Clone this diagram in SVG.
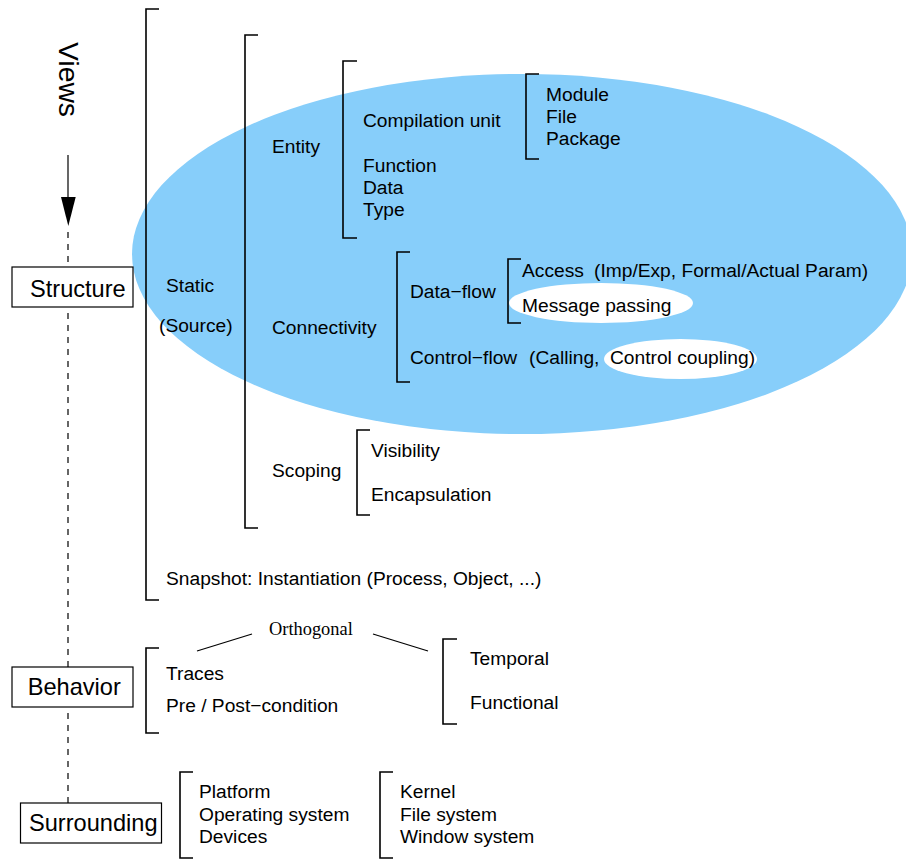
<svg xmlns="http://www.w3.org/2000/svg" width="906" height="859" viewBox="0 0 906 859">
<style>
text{font-family:"Liberation Sans",Arial,sans-serif;font-size:19.2px;fill:#000}
.big{font-size:23.6px}
.views{font-size:28.3px}
.serif{font-family:"Liberation Serif","Times New Roman",serif;font-size:18.4px}
.br{fill:none;stroke:#000;stroke-width:1.6}
.box{fill:#fff;stroke:#000;stroke-width:1.2}
.dash{stroke:#000;stroke-width:1.2;stroke-dasharray:6 6;fill:none}
.ln{stroke:#000;stroke-width:1.2;fill:none}
</style>
<rect width="906" height="859" fill="#fff"/>
<g id="static-ellipse">
<ellipse cx="522" cy="254" rx="390" ry="180" fill="#87CEFA"/>
<ellipse cx="601" cy="303" rx="92" ry="20" fill="#fff"/>
<ellipse cx="680.5" cy="359" rx="76.5" ry="20" fill="#fff"/>
</g>
<g id="connectors">
<line class="ln" x1="68" y1="155" x2="68" y2="200"/>
<polygon points="61,197 75.7,197 68.3,226" fill="#000"/>
<path class="dash" d="M68,232 V267 M68,313 V667 M68,713 V803"/>
<line class="ln" x1="197" y1="651" x2="252" y2="634"/>
<line class="ln" x1="373" y1="634" x2="428" y2="651"/>
</g>
<g id="views"><text class="views" transform="translate(59,42) rotate(90)">Views</text></g>
<g id="structure"><rect class="box" x="12" y="267" width="121" height="40"/><text class="big" x="30" y="296.5">Structure</text></g>
<g id="behavior"><rect class="box" x="12" y="667" width="121" height="40"/><text class="big" x="27.7" y="695">Behavior</text></g>
<g id="surrounding"><rect class="box" x="20.5" y="803" width="141" height="40"/><text class="big" x="29" y="831">Surrounding</text></g>
<g id="static">
<path class="br" d="M159,9 H146 V600 H159"/>
<text x="166" y="292">Static</text>
<text x="159" y="332">(Source)</text>
<text x="166" y="585">Snapshot: Instantiation (Process, Object, ...)</text>
</g>
<g id="source-aspects">
<path class="br" d="M258,35 H245 V528 H258"/>
<text x="272" y="153">Entity</text>
<text x="272" y="334">Connectivity</text>
<text x="272" y="477">Scoping</text>
</g>
<g id="entity">
<path class="br" d="M357,61 H343 V238 H357"/>
<text x="363" y="127">Compilation unit</text>
<text x="363" y="172">Function</text>
<text x="363" y="194">Data</text>
<text x="363" y="216">Type</text>
</g>
<g id="compilation-unit">
<path class="br" d="M539,74 H526 V159 H539"/>
<text x="546" y="101">Module</text>
<text x="546" y="123">File</text>
<text x="546" y="145">Package</text>
</g>
<g id="connectivity">
<path class="br" d="M410,252 H397 V382 H410"/>
<text x="410" y="298">Data−flow</text>
<text x="410" y="364">Control−flow</text>
<text x="529" y="364">(Calling,</text>
<text x="610" y="364">Control coupling)</text>
</g>
<g id="data-flow">
<path class="br" d="M521,259 H508 V323 H521"/>
<text x="522" y="277">Access</text>
<text x="594" y="277">(Imp/Exp, Formal/Actual Param)</text>
<text x="522" y="312">Message passing</text>
</g>
<g id="scoping">
<path class="br" d="M370,430 H357 V515 H370"/>
<text x="371" y="457">Visibility</text>
<text x="371" y="501">Encapsulation</text>
</g>
<g id="orthogonal"><text class="serif" x="269" y="635">Orthogonal</text></g>
<g id="behavior-items">
<path class="br" d="M159,648 H146 V733 H159"/>
<text x="166" y="680">Traces</text>
<text x="166" y="712">Pre / Post−condition</text>
</g>
<g id="behavior-kinds">
<path class="br" d="M457,639 H443 V724 H457"/>
<text x="470" y="665">Temporal</text>
<text x="470" y="709">Functional</text>
</g>
<g id="platform">
<path class="br" d="M193,772 H180 V858 H193"/>
<text x="199" y="798">Platform</text>
<text x="199" y="821">Operating system</text>
<text x="199" y="843">Devices</text>
</g>
<g id="os">
<path class="br" d="M393,772 H380 V858 H393"/>
<text x="400" y="798">Kernel</text>
<text x="400" y="821">File system</text>
<text x="400" y="843">Window system</text>
</g>
</svg>
